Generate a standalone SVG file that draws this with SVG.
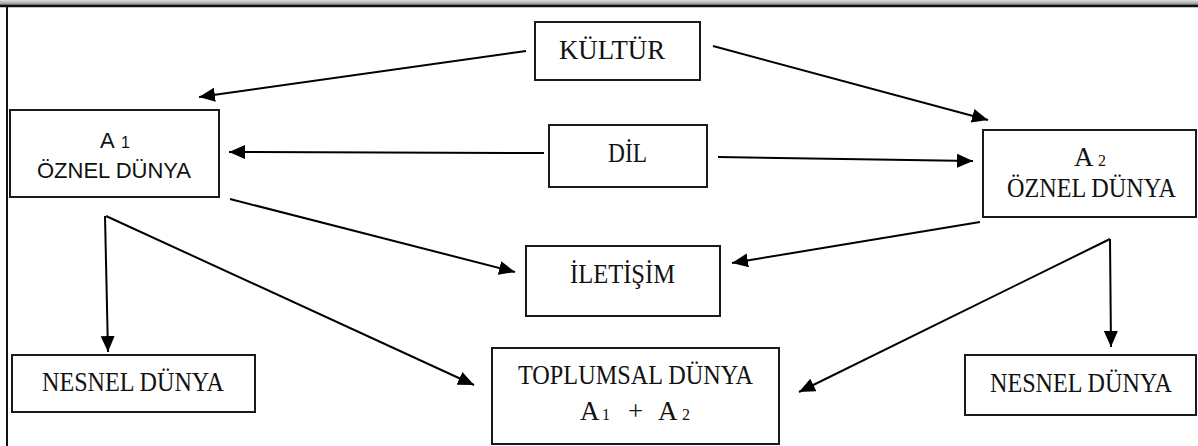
<svg xmlns="http://www.w3.org/2000/svg" width="1198" height="446" viewBox="0 0 1198 446">
  <style>
    .box { fill: #ffffff; stroke: #1a1a1a; stroke-width: 2; }
    .serif { font-family: "Liberation Serif", "Times New Roman", serif; font-size: 27px; fill: #111; }
    .sans { font-family: "Liberation Sans", Arial, sans-serif; font-size: 22px; fill: #111; }
    .sub { font-size: 16px; }
    .conn { stroke: #000; stroke-width: 2; fill: none; marker-end: url(#arrow); }
  </style>
  <defs>
    <marker id="arrow" markerUnits="userSpaceOnUse" markerWidth="17" markerHeight="15" refX="16" refY="7" orient="auto">
      <path d="M0,0 L16,7 L0,14 Z" fill="#000"/>
    </marker>
    <linearGradient id="topband" x1="0" y1="0" x2="0" y2="1">
      <stop offset="0" stop-color="#e0e0e0"/>
      <stop offset="1" stop-color="#8a8a8a"/>
    </linearGradient>
  </defs>
  <rect width="1198" height="446" fill="#ffffff"/>
  <g id="frame">
    <rect x="0" y="0" width="1198" height="5" fill="url(#topband)"/>
    <line x1="0" y1="6" x2="1198" y2="6" stroke="#111" stroke-width="2.5"/>
    <line x1="7" y1="6" x2="7" y2="446" stroke="#111" stroke-width="2"/>
  </g>
  <g id="connectors">
    <line class="conn" x1="526" y1="51" x2="199" y2="97"/>
    <line class="conn" x1="713" y1="46" x2="988" y2="120"/>
    <line class="conn" x1="544" y1="153" x2="229" y2="152"/>
    <line class="conn" x1="718" y1="157" x2="973" y2="161"/>
    <line class="conn" x1="230" y1="199" x2="515" y2="272"/>
    <line class="conn" x1="980" y1="222" x2="732" y2="263"/>
    <line class="conn" x1="105" y1="216" x2="108" y2="352"/>
    <line class="conn" x1="106" y1="216" x2="474" y2="385"/>
    <line class="conn" x1="1110" y1="239" x2="1111" y2="347"/>
    <line class="conn" x1="1110" y1="239" x2="799" y2="392"/>
  </g>
  <g id="kultur">
    <rect class="box" x="535" y="22" width="165" height="58"/>
    <text class="serif" x="559" y="59" textLength="106" lengthAdjust="spacingAndGlyphs">KÜLTÜR</text>
  </g>
  <g id="a1">
    <rect class="box" x="10" y="110" width="209" height="87"/>
    <text class="sans" x="100" y="148">A<tspan class="sub" x="121">1</tspan></text>
    <text class="sans" x="114" y="178" text-anchor="middle">ÖZNEL DÜNYA</text>
  </g>
  <g id="dil">
    <rect class="box" x="549" y="125" width="158" height="62"/>
    <text class="serif" x="608" y="162" textLength="39" lengthAdjust="spacingAndGlyphs">DİL</text>
  </g>
  <g id="a2">
    <rect class="box" x="983" y="130" width="213" height="87"/>
    <text class="serif" x="1074" y="166">A<tspan class="sub" x="1098">2</tspan></text>
    <text class="serif" x="1007" y="197" textLength="169" lengthAdjust="spacingAndGlyphs">ÖZNEL DÜNYA</text>
  </g>
  <g id="iletisim">
    <rect class="box" x="526" y="246" width="194" height="70"/>
    <text class="serif" x="570" y="283" textLength="105" lengthAdjust="spacingAndGlyphs">İLETİŞİM</text>
  </g>
  <g id="nesnel1">
    <rect class="box" x="12" y="355" width="243" height="57"/>
    <text class="serif" x="42" y="391" textLength="182" lengthAdjust="spacingAndGlyphs">NESNEL DÜNYA</text>
  </g>
  <g id="toplumsal">
    <rect class="box" x="492" y="348" width="287" height="96"/>
    <text class="serif" x="518" y="384" textLength="235" lengthAdjust="spacingAndGlyphs">TOPLUMSAL DÜNYA</text>
    <text class="serif" x="580" y="420">A<tspan class="sub" x="602">1</tspan><tspan x="628">+</tspan><tspan x="658">A</tspan><tspan class="sub" x="682">2</tspan></text>
  </g>
  <g id="nesnel2">
    <rect class="box" x="965" y="355" width="231" height="60"/>
    <text class="serif" x="990" y="392" textLength="182" lengthAdjust="spacingAndGlyphs">NESNEL DÜNYA</text>
  </g>
</svg>
